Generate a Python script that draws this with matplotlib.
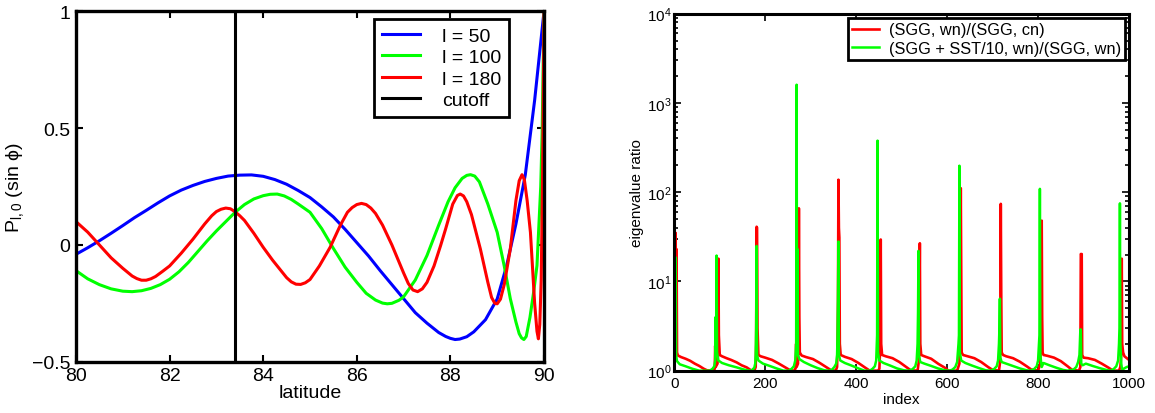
import matplotlib
matplotlib.use("Agg")
import matplotlib.pyplot as plt
from matplotlib.ticker import LogLocator, NullFormatter

plt.rcParams['font.family'] = ['Liberation Sans', 'DejaVu Sans']
plt.rcParams['mathtext.fontset'] = 'custom'
plt.rcParams['mathtext.rm'] = 'Liberation Sans'
plt.rcParams['mathtext.it'] = 'Liberation Sans:italic'
plt.rcParams['mathtext.bf'] = 'Liberation Sans:bold'

# ---- left panel: P_l,0(sin phi) ----
lat50 = [80.0, 80.25, 80.5, 80.75, 81.0, 81.25, 81.5, 81.75, 82.0, 82.25, 82.5, 82.75,
         83.0, 83.25, 83.5, 83.75, 84.0, 84.25, 84.5, 84.75, 85.0, 85.25, 85.5, 85.75,
         86.0, 86.25, 86.5, 86.75, 87.0, 87.25, 87.5, 87.75, 87.9, 88.0, 88.1, 88.2,
         88.35, 88.5, 88.75, 89.0, 89.2, 89.4, 89.6, 89.8, 90.0]
p50 = [-0.04, -0.012, 0.018, 0.05, 0.083, 0.117, 0.148, 0.18, 0.21, 0.235, 0.255, 0.272,
       0.285, 0.295, 0.299, 0.30, 0.294, 0.28, 0.26, 0.233, 0.203, 0.163, 0.12, 0.067,
       0.01, -0.047, -0.11, -0.17, -0.23, -0.29, -0.335, -0.375, -0.392, -0.40, -0.405, -0.403,
       -0.393, -0.372, -0.32, -0.231, -0.09, 0.09, 0.30, 0.62, 1.0]

lat100 = [80.0, 80.25, 80.5, 80.75, 81.0, 81.2, 81.4, 81.6, 81.8, 82.0, 82.2, 82.4,
          82.6, 82.8, 83.0, 83.2, 83.4, 83.6, 83.8, 84.0, 84.15, 84.3, 84.45, 84.6,
          84.75, 85.0, 85.25, 85.5, 85.75, 86.0, 86.2, 86.4, 86.55, 86.65, 86.75, 86.9,
          87.0, 87.25, 87.5, 87.75, 87.95, 88.1, 88.25, 88.35, 88.43, 88.52, 88.62, 88.8,
          89.0, 89.15, 89.28, 89.4, 89.47, 89.52, 89.57, 89.62, 89.7, 89.78, 89.85, 89.93,
          89.96, 90.0]
p100 = [-0.11, -0.145, -0.17, -0.188, -0.198, -0.20, -0.196, -0.186, -0.17, -0.147, -0.115, -0.075,
        -0.029, 0.017, 0.06, 0.10, 0.14, 0.173, 0.197, 0.211, 0.217, 0.218, 0.21, 0.195,
        0.175, 0.14, 0.07, -0.015, -0.095, -0.16, -0.207, -0.236, -0.249, -0.252, -0.25, -0.237,
        -0.222, -0.15, -0.045, 0.085, 0.185, 0.245, 0.285, 0.298, 0.301, 0.295, 0.27, 0.175,
        0.054, -0.09, -0.23, -0.33, -0.38, -0.398, -0.405, -0.392, -0.31, -0.20, -0.088, 0.25,
        0.48, 1.0]

lat180 = [80.0, 80.25, 80.5, 80.75, 81.0, 81.2, 81.3, 81.4, 81.5, 81.6, 81.7, 81.85,
          82.0, 82.25, 82.5, 82.75, 82.9, 83.0, 83.1, 83.2, 83.3, 83.4, 83.5, 83.6,
          83.8, 84.0, 84.2, 84.4, 84.5, 84.6, 84.7, 84.8, 84.9, 85.0, 85.2, 85.43,
          85.65, 85.8, 85.9, 86.0, 86.1, 86.2, 86.3, 86.4, 86.55, 86.75, 87.0, 87.1,
          87.2, 87.3, 87.4, 87.5, 87.65, 87.79, 87.9, 88.05, 88.15, 88.21, 88.28, 88.35,
          88.45, 88.64, 88.8, 88.88, 88.95, 89.0, 89.07, 89.15, 89.28, 89.4, 89.47, 89.53,
          89.58, 89.64, 89.71, 89.8, 89.85, 89.88, 89.91, 89.94, 89.97, 90.0]
p180 = [0.10, 0.055, 0.0, -0.055, -0.10, -0.133, -0.144, -0.151, -0.151, -0.145, -0.135, -0.113,
        -0.09, -0.035, 0.025, 0.09, 0.125, 0.143, 0.153, 0.158, 0.155, 0.142, 0.125, 0.105,
        0.05, -0.01, -0.065, -0.115, -0.14, -0.158, -0.168, -0.169, -0.162, -0.148, -0.09, -0.01,
        0.085, 0.14, 0.16, 0.173, 0.178, 0.173, 0.158, 0.135, 0.085, 0.0, -0.12, -0.165,
        -0.193, -0.20, -0.188, -0.16, -0.09, -0.003, 0.07, 0.175, 0.212, 0.218, 0.21, 0.185,
        0.13, -0.017, -0.16, -0.225, -0.25, -0.252, -0.232, -0.17, -0.017, 0.19, 0.275, 0.301,
        0.28, 0.19, 0.054, -0.25, -0.37, -0.402, -0.34, -0.15, 0.3, 1.0]

cutoff_lat = 83.4
lat_ticks = [80, 82, 84, 86, 88, 90]
p_ticks = [-0.5, 0, 0.5, 1]
p_ticklabels = ['\u22120.5', '0', '0.5', '1']

# ---- right panel: eigenvalue ratios, control points ----
red_idx = [1, 2, 3, 4, 5, 6, 8, 15, 25, 35, 45, 55, 65, 72, 85, 89, 90, 91, 95, 96, 97, 98, 100,
           105, 115, 125, 137, 148, 159, 166, 170, 176, 179, 180, 181, 182, 183, 185,
           190, 200, 215, 230, 245, 255, 265, 267, 268, 269, 272, 273, 274, 275, 276, 280,
           290, 305, 320, 335, 345, 355, 358, 359, 360, 361, 362, 363, 364, 366,
           375, 390, 405, 420, 430, 448, 451, 453, 454, 455, 457,
           465, 480, 495, 510, 520, 535, 538, 539, 540, 541, 543,
           550, 565, 581, 595, 603, 622, 627, 628, 629, 630, 631, 632, 635,
           645, 660, 675, 690, 700, 714, 716, 717, 718, 719, 720, 723,
           730, 745, 760, 775, 785, 800, 805, 806, 807, 808, 809, 810, 812,
           820, 835, 850, 865, 875, 890, 893, 894, 895, 896, 897, 900,
           910, 925, 940, 955, 965, 978, 981, 983, 984, 985, 987, 990, 1000]
red_val = [1.4, 1.5, 35, 3, 23, 1.6, 1.48, 1.42, 1.36, 1.29, 1.2, 1.13, 1.05, 1.01, 1.0, 1.05, 1.9, 1.1, 1.2, 1.5, 18, 2.5, 1.5,
           1.45, 1.38, 1.32, 1.24, 1.15, 1.09, 1.03, 1.0, 1.0, 1.1, 2.0, 41, 40, 3, 1.5,
           1.45, 1.4, 1.32, 1.2, 1.08, 1.01, 1.0, 1.1, 2.0, 1.1, 1.2, 2.0, 66, 4, 1.6, 1.48,
           1.42, 1.35, 1.22, 1.09, 1.01, 1.0, 1.1, 2.0, 6, 138, 40, 31, 2, 1.5,
           1.43, 1.35, 1.22, 1.08, 1.0, 1.0, 1.05, 2.0, 29.5, 2.0, 1.5,
           1.45, 1.38, 1.25, 1.1, 1.01, 1.0, 1.3, 5, 26.8, 2.0, 1.5,
           1.45, 1.36, 1.19, 1.08, 1.0, 1.0, 1.2, 3, 8, 111, 10, 1.6, 1.5,
           1.45, 1.38, 1.25, 1.1, 1.02, 1.0, 1.2, 3, 74, 7.6, 1.6, 1.5,
           1.45, 1.38, 1.26, 1.12, 1.03, 1.0, 1.2, 3, 15, 48, 4, 1.6, 1.5,
           1.47, 1.4, 1.28, 1.12, 1.02, 1.0, 1.1, 20.3, 20, 20.3, 1.5, 1.4,
           1.38, 1.32, 1.2, 1.08, 1.0, 1.0, 1.1, 1.5, 18, 2.0, 1.6, 1.45, 1.32]

green_idx = [1, 2, 3, 4, 6, 12, 25, 40, 55, 78, 84, 88, 90, 91, 92, 93, 94, 97,
             105, 120, 137, 150, 160, 168, 172, 176, 178, 179, 180, 181, 182, 185,
             195, 210, 225, 240, 252, 258, 263, 266, 268, 269, 270, 271, 272, 275,
             285, 300, 315, 330, 340, 347, 352, 356, 358, 359, 360, 361, 362, 365,
             375, 390, 405, 418, 430, 436, 441, 444, 446, 447, 448, 451,
             460, 475, 490, 505, 515, 524, 530, 533, 535, 536, 537, 538, 541,
             550, 565, 580, 595, 605, 612, 618, 622, 625, 626, 627, 628, 631,
             640, 655, 670, 685, 695, 703, 709, 712, 714, 715, 716, 717, 720,
             730, 745, 760, 775, 782, 791, 797, 800, 802, 803, 804, 805, 808,
             812, 825, 840, 855, 865, 878, 884, 888, 891, 893, 894, 895, 898,
             905, 920, 935, 950, 958, 966, 972, 976, 978, 979, 980, 981, 983,
             985, 988, 995, 1000]
green_val = [1.5, 6, 18.6, 1.5, 1.28, 1.18, 1.12, 1.05, 1.0, 1.0, 1.05, 1.12, 1.3, 4, 1.5, 19.5, 1.6, 1.3,
             1.22, 1.15, 1.09, 1.04, 1.01, 1.0, 1.03, 1.08, 1.2, 1.5, 3, 25, 1.5, 1.3,
             1.2, 1.13, 1.06, 1.0, 1.0, 1.05, 1.12, 1.3, 2, 1600, 2, 23, 1.5, 1.35,
             1.25, 1.15, 1.07, 1.01, 1.0, 1.03, 1.1, 1.2, 1.5, 2.5, 7, 28, 1.5, 1.3,
             1.22, 1.14, 1.06, 1.0, 1.0, 1.05, 1.12, 1.3, 2.5, 378, 1.6, 1.3,
             1.22, 1.14, 1.06, 1.01, 1.0, 1.04, 1.12, 1.3, 2, 4.5, 22, 1.5, 1.25,
             1.2, 1.13, 1.06, 1.01, 1.0, 1.03, 1.1, 1.25, 2, 2.5, 198, 1.6, 1.3,
             1.22, 1.14, 1.07, 1.01, 1.0, 1.04, 1.12, 1.3, 2, 3, 6.4, 1.4, 1.25,
             1.2, 1.13, 1.06, 1.01, 1.0, 1.04, 1.12, 1.3, 2, 2.5, 109, 1.5, 1.1,
             1.22, 1.15, 1.08, 1.02, 1.0, 1.03, 1.1, 1.25, 1.5, 2.9, 2.9, 1.2, 1.15,
             1.2, 1.13, 1.07, 1.02, 1.0, 1.04, 1.12, 1.3, 2, 3, 75, 2, 1.2,
             1.0, 1.05, 1.1, 1.12]
idx_ticks = [0, 200, 400, 600, 800, 1000]

fig = plt.figure(figsize=(11.55, 4.14), dpi=100)
ax1 = fig.add_axes([0.0658, 0.1239, 0.4052, 0.846])
ax2 = fig.add_axes([0.5838, 0.1022, 0.3937, 0.8623])

# left
ax1.plot(lat50, p50, color=(0, 0, 1), lw=2.2, label='l = 50')
ax1.plot(lat100, p100, color=(0, 1, 0), lw=2.2, label='l = 100')
ax1.plot(lat180, p180, color=(1, 0, 0), lw=2.2, label='l = 180')
ax1.axvline(cutoff_lat, color='k', lw=2.2, label='cutoff')
ax1.set_xlim(80, 90)
ax1.set_ylim(-0.5, 1)
ax1.set_xticks(lat_ticks)
ax1.set_yticks(p_ticks)
ax1.set_yticklabels(p_ticklabels)
ax1.tick_params(direction='in', top=True, right=True, length=5, width=1.5,
                labelsize=14, pad=4)
ax1.set_xlabel('latitude', fontsize=14, labelpad=0)
ax1.set_ylabel(r'P$_{\mathrm{l,0}}$ (sin ϕ)', fontsize=14, labelpad=4)
for s in ax1.spines.values():
    s.set_linewidth(2.4)
leg1 = ax1.legend(loc='upper right', bbox_to_anchor=(0.926, 0.978), borderaxespad=0,
                  fontsize=14, handlelength=1.95, handletextpad=1.15, labelspacing=0.2,
                  borderpad=0.4, fancybox=False, framealpha=1)
leg1.get_frame().set_edgecolor('k')
leg1.get_frame().set_linewidth(2)

# right
ax2.plot(red_idx, red_val, color=(1, 0, 0), lw=1.9, label='(SGG, wn)/(SGG, cn)')
ax2.plot(green_idx, green_val, color=(0, 1, 0), lw=1.8, label='(SGG + SST/10, wn)/(SGG, wn)')
ax2.set_yscale('log')
ax2.set_xlim(0, 1000)
ax2.set_ylim(1, 1e4)
ax2.set_xticks(idx_ticks)
ax2.yaxis.set_major_locator(LogLocator(base=10, numticks=10))
ax2.yaxis.set_minor_locator(LogLocator(base=10, subs=range(2, 10), numticks=10))
ax2.yaxis.set_minor_formatter(NullFormatter())
ax2.tick_params(which='both', direction='in', top=True, right=True, width=1.2)
ax2.tick_params(which='major', length=5, labelsize=11, pad=4)
ax2.tick_params(which='minor', length=3)
ax2.tick_params(axis='y', which='major', pad=2)
ax2.set_xlabel('index', fontsize=11, labelpad=1)
ax2.set_ylabel('eigenvalue ratio', fontsize=11, labelpad=2)
for s in ax2.spines.values():
    s.set_linewidth(2.2)
leg2 = ax2.legend(loc='upper right', bbox_to_anchor=(0.991, 0.987), borderaxespad=0,
                  fontsize=11.8, handlelength=1.65, handletextpad=0.6, labelspacing=0.2,
                  borderpad=0.25, fancybox=False, framealpha=1)
leg2.get_frame().set_edgecolor('k')
leg2.get_frame().set_linewidth(2)

fig.savefig('out.png', dpi=100)
